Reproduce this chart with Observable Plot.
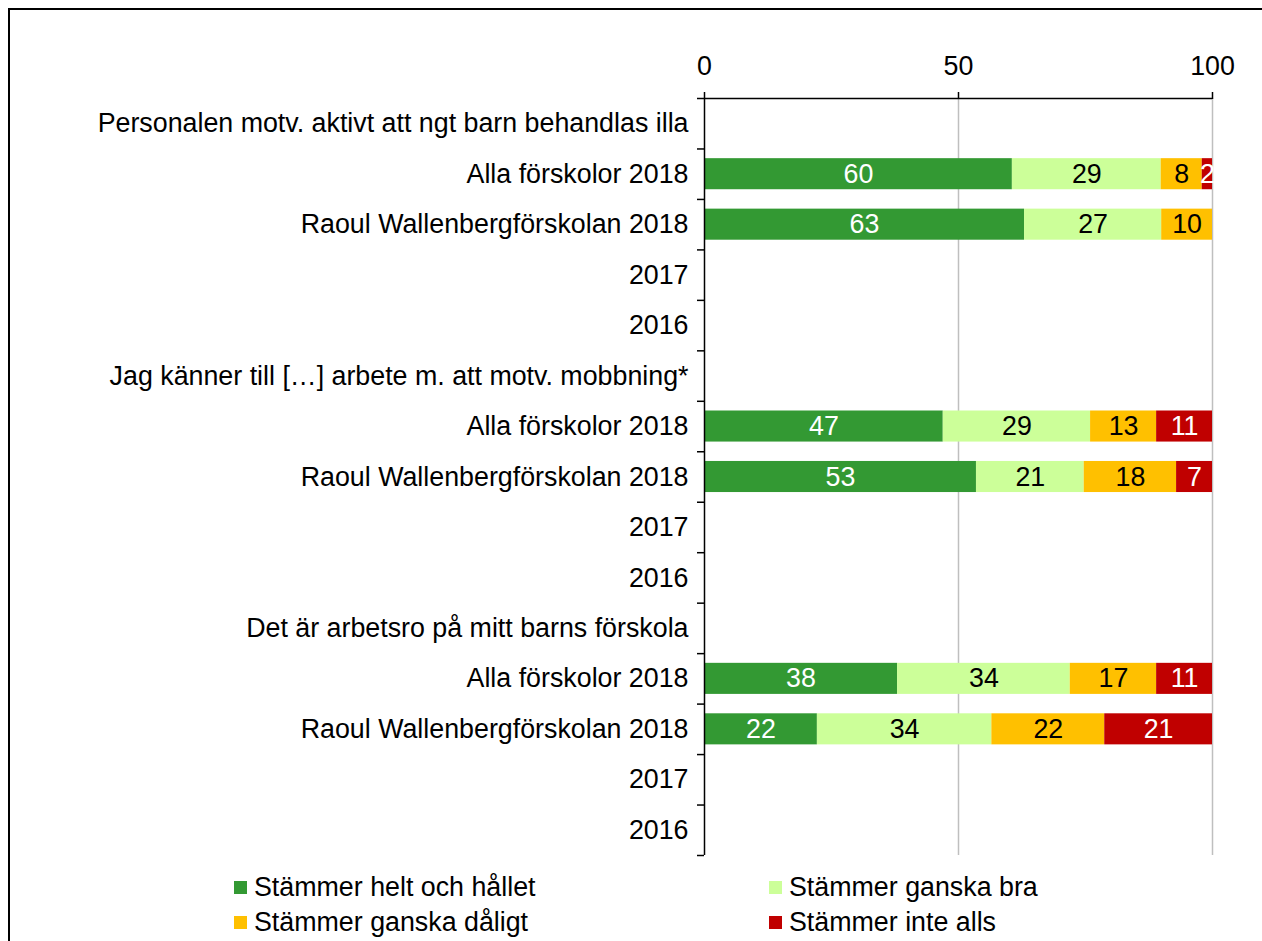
<!DOCTYPE html>
<html>
<head>
<meta charset="utf-8">
<script src="https://cdn.jsdelivr.net/npm/d3@7"></script>
<script src="https://cdn.jsdelivr.net/npm/@observablehq/plot@0.6"></script>
<style>
  html, body { margin: 0; padding: 0; background: white; overflow: hidden; }
  body { width: 1262px; height: 941px; position: relative; font-family: "Liberation Sans", Arial, sans-serif; }
  #frame { position: absolute; left: 7.5px; top: 8.3px; width: 1400px; height: 1100px;
           border-left: 2px solid #000; border-top: 2px solid #000; pointer-events: none; }
  #chart svg { display: block; }
  #legend { display: grid; grid-template-columns: 535px auto; padding-left: 234px;
            font-size: 26.8px; line-height: 35px; color: #000; }
  .item { display: flex; align-items: center; white-space: nowrap; }
  .sw { width: 13px; height: 13px; margin-right: 7px; flex: none; }
</style>
</head>
<body>
<div id="chart"></div>
<div id="legend"></div>
<div id="frame"></div>
<script>
const categories = ["Stämmer helt och hållet", "Stämmer ganska bra", "Stämmer ganska dåligt", "Stämmer inte alls"];
const colors = ["#339933", "#CCFF99", "#FFC000", "#C00000"];
const labelColors = ["white", "black", "black", "white"];

const rowLabels = [
  "Personalen motv. aktivt att ngt barn behandlas illa",
  "Alla förskolor 2018",
  "Raoul Wallenbergförskolan 2018",
  "2017",
  "2016",
  "Jag känner till […] arbete m. att motv. mobbning*",
  "Alla förskolor 2018",
  "Raoul Wallenbergförskolan 2018",
  "2017",
  "2016",
  "Det är arbetsro på mitt barns förskola",
  "Alla förskolor 2018",
  "Raoul Wallenbergförskolan 2018",
  "2017",
  "2016"
];

const heltOchHallet = [null, 60, 63, null, null, null, 47, 53, null, null, null, 38, 22, null, null];
const ganskaBra     = [null, 29, 27, null, null, null, 29, 21, null, null, null, 34, 34, null, null];
const ganskaDaligt  = [null,  8, 10, null, null, null, 13, 18, null, null, null, 17, 22, null, null];
const inteAlls      = [null,  2, null, null, null, null, 11, 7, null, null, null, 11, 21, null, null];

const xTicks = [0, 50, 100];
const gridValues = [50, 100];

const series = [heltOchHallet, ganskaBra, ganskaDaligt, inteAlls];

// Build normalized stacked segments (percent of row total)
const segs = [];
rowLabels.forEach((lab, i) => {
  const vals = series.map(s => s[i]);
  if (vals.every(v => v == null)) return;
  const total = d3.sum(vals);
  let acc = 0;
  vals.forEach((v, k) => {
    if (v == null || v === 0) return;
    const x1 = acc / total * 100;
    acc += v;
    const x2 = acc / total * 100;
    segs.push({ row: i, cat: categories[k], k, value: v, x1, x2 });
  });
});

const rows = rowLabels.map((label, i) => ({ row: i, label }));
const FS = 26.8;

const chart = Plot.plot({
  width: 1262,
  height: 870,
  marginLeft: 704,
  marginRight: 50,
  marginTop: 98,
  marginBottom: 15,
  style: { fontFamily: "'Liberation Sans', Arial, sans-serif", fontSize: FS + "px", color: "#000", background: "white", overflow: "visible" },
  x: { domain: [0, 100], axis: null },
  y: { domain: [0, rowLabels.length], reverse: true, axis: null },
  color: { domain: categories, range: colors },
  marks: [
    Plot.ruleX(gridValues, { stroke: "#bfbfbf", strokeWidth: 1.5 }),
    Plot.rectX(segs, { x1: "x1", x2: "x2", y1: "row", y2: d => d.row + 1, fill: "cat", insetTop: 9.7, insetBottom: 9.7 }),
    Plot.text(segs, { x: d => (d.x1 + d.x2) / 2, y: d => d.row + 0.5, text: d => String(d.value),
                      fill: d => labelColors[d.k], fontSize: FS }),
    Plot.ruleX([0], { stroke: "#000", strokeWidth: 1.5 }),
    Plot.ruleY([0], { stroke: "#000", strokeWidth: 1.5 }),
    Plot.axisX({ anchor: "top", ticks: xTicks, tickSize: 7, tickPadding: 17, fontSize: FS, label: null, stroke: "#000", strokeWidth: 1.5 }),
    Plot.axisY({ ticks: d3.range(rowLabels.length + 1), tickSize: 7, tickFormat: () => "", label: null, stroke: "#000", strokeWidth: 1.5 }),
    Plot.text(rows, { x: 0, y: d => d.row + 0.5, text: "label", textAnchor: "end", dx: -16, fontSize: FS, fill: "#000" })
  ]
});
document.getElementById("chart").appendChild(chart);

// Legend (row-major: col1 = helt, ganska dåligt ; col2 = ganska bra, inte alls)
const legendOrder = [0, 1, 2, 3];
const legend = document.getElementById("legend");
legendOrder.forEach(k => {
  const item = document.createElement("div");
  item.className = "item";
  const sw = document.createElement("span");
  sw.className = "sw";
  sw.style.background = colors[k];
  const t = document.createElement("span");
  t.textContent = categories[k];
  item.appendChild(sw);
  item.appendChild(t);
  legend.appendChild(item);
});
</script>
</body>
</html>
